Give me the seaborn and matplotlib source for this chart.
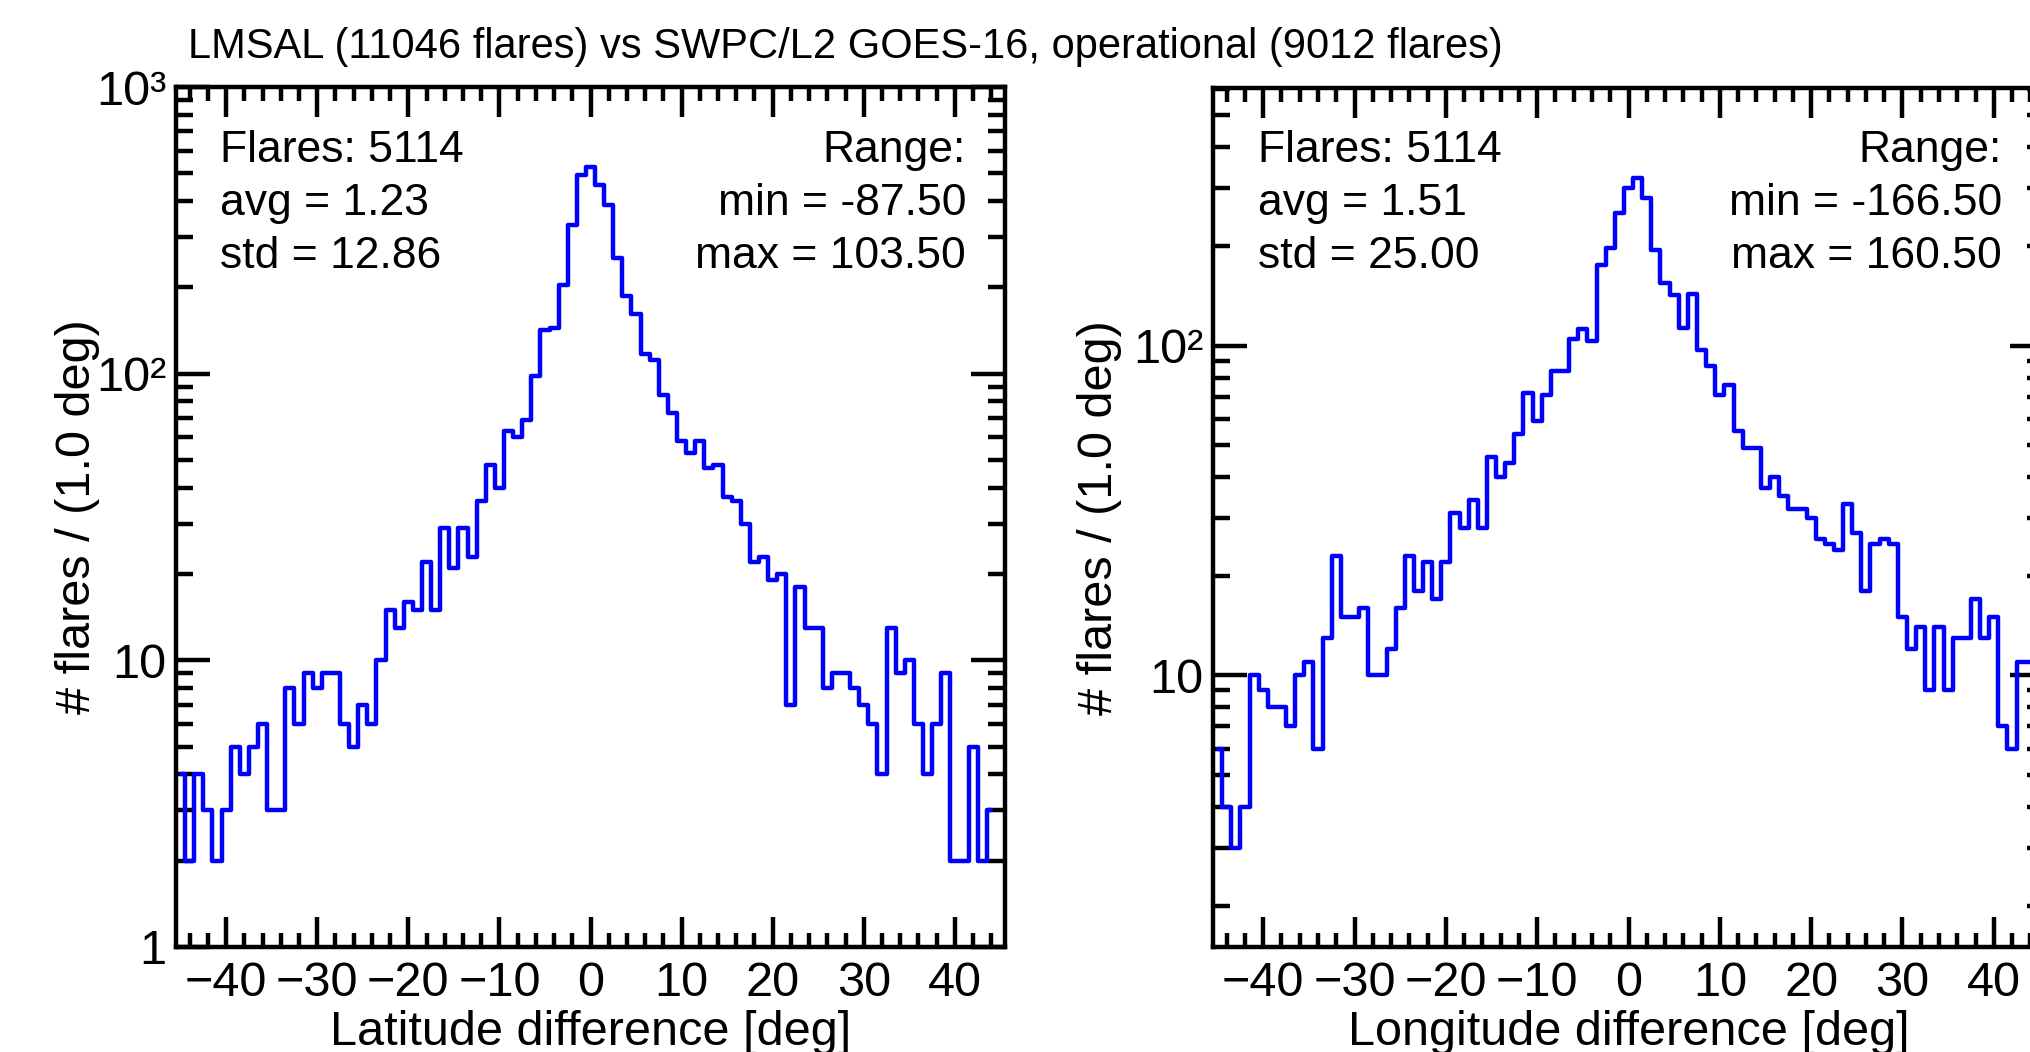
import numpy as np
import matplotlib
matplotlib.use("Agg")
import matplotlib.pyplot as plt
import seaborn as sns
from matplotlib.ticker import FixedLocator, FuncFormatter, LogLocator, NullFormatter

# ---------------- data ----------------
lat_bins = list(range(-45, 45))
lat_counts = [4, 2, 4, 3, 2, 3, 5, 4, 5, 6,
              3, 3, 8, 6, 9, 8, 9, 9, 6, 5,
              7, 6, 10, 15, 13, 16, 15, 22, 15, 29,
              21, 29, 23, 36, 48, 40, 63, 60, 69, 98,
              142, 144, 204, 330, 493, 528, 456, 388, 253, 186,
              161, 117, 112, 84, 73, 58, 53, 58, 47, 48,
              37, 36, 30, 22, 23, 19, 20, 7, 18, 13,
              13, 8, 9, 9, 8, 7, 6, 4, 13, 9,
              10, 6, 4, 6, 9, 2, 2, 5, 2, 3]

lon_bins = list(range(-45, 45))
lon_counts = [6, 4, 3, 4, 10, 9, 8, 8, 7, 10,
              11, 6, 13, 23, 15, 15, 16, 10, 10, 12,
              16, 23, 18, 22, 17, 22, 31, 28, 34, 28,
              46, 40, 44, 54, 72, 59, 71, 84, 84, 105,
              112, 103, 176, 198, 252, 301, 322, 280, 195, 155,
              143, 113, 144, 97, 87, 71, 76, 55, 49, 49,
              37, 40, 35, 32, 32, 30, 26, 25, 24, 33,
              27, 18, 25, 26, 25, 15, 12, 14, 9, 14,
              9, 13, 13, 17, 13, 15, 7, 6, 11, 11]

title = "LMSAL (11046 flares) vs SWPC/L2 GOES-16, operational (9012 flares)"
x_major = [-40, -30, -20, -10, 0, 10, 20, 30, 40]
x_minor = list(range(-44, 45, 2))
y_tick_labels = {1: "1", 10: "10", 100: "10\u00b2", 1000: "10\u00b3"}

panels = [
    dict(bins=lat_bins, counts=lat_counts, xlabel="Latitude difference [deg]",
         ylim=(1, 1000), yticks=[1, 10, 100, 1000],
         left=["Flares: 5114", "avg = 1.23", "std = 12.86"],
         right=["Range:", "min = -87.50", "max = 103.50"]),
    dict(bins=lon_bins, counts=lon_counts, xlabel="Longitude difference [deg]",
         ylim=(1.5, 605), yticks=[10, 100],
         left=["Flares: 5114", "avg = 1.51", "std = 25.00"],
         right=["Range:", "min = -166.50", "max = 160.50"]),
]

# ---------------- style ----------------
sns.set_theme(style="white")
plt.rcParams['font.family'] = ['Liberation Sans', 'DejaVu Sans']
plt.rcParams['axes.unicode_minus'] = True

FS_TICK = 35
FS_LAB = 35
FS_ANN = 32
FS_TITLE = 30
LW = 3.2
W, H = 2030, 1052

fig = plt.figure(figsize=(W / 100, H / 100), dpi=100)
fig.patch.set_facecolor('white')

# pixel boxes (left, top, right, bottom) and label / text anchors
layout = [
    dict(box=(176, 87, 1005, 947), ylab_x=100, text_l=220, text_r=966),
    dict(box=(1213, 88, 2044, 947), ylab_x=1122, text_l=1258, text_r=2002),
]


def ylab(v, pos=None):
    return y_tick_labels.get(int(round(v)), "")


for lay, p in zip(layout, panels):
    x0, y0, x1, y1 = lay['box']
    ax = fig.add_axes([x0 / W, 1 - y1 / H, (x1 - x0) / W, (y1 - y0) / H])
    ax.set_facecolor('white')
    sns.lineplot(x=p['bins'], y=p['counts'], ax=ax, color='#0000ff',
                 linewidth=LW, drawstyle='steps-mid', estimator=None, sort=False)
    ax.set_yscale('log')
    ax.set_xlim(-45.5, 45.5)
    ax.set_ylim(*p['ylim'])

    ax.xaxis.set_major_locator(FixedLocator(x_major))
    ax.xaxis.set_minor_locator(FixedLocator(x_minor))
    ax.yaxis.set_major_locator(FixedLocator(p['yticks']))
    ax.yaxis.set_major_formatter(FuncFormatter(ylab))
    ax.yaxis.set_minor_locator(LogLocator(base=10, subs=np.arange(2, 10), numticks=20))
    ax.yaxis.set_minor_formatter(NullFormatter())

    for s in ax.spines.values():
        s.set_visible(True)
        s.set_linewidth(LW)
        s.set_color('black')

    ax.tick_params(which='both', direction='in', top=True, right=True,
                   bottom=True, left=True, width=LW, color='black',
                   labelsize=FS_TICK, labelcolor='black')
    ax.tick_params(axis='x', which='major', length=21.6, pad=10)
    ax.tick_params(axis='x', which='minor', length=10)
    ax.tick_params(axis='y', which='major', length=24.5, pad=7)
    ax.tick_params(axis='y', which='minor', length=12.2)

    ax.set_xlabel(p['xlabel'], fontsize=FS_LAB, color='black')
    ax.xaxis.label.set_verticalalignment('baseline')
    ax.xaxis.set_label_coords(0.5, (y1 - 1045) / (y1 - y0))
    ax.set_ylabel("# flares / (1.0 deg)", fontsize=FS_LAB, color='black')
    ax.yaxis.set_label_coords((lay['ylab_x'] - x0) / (x1 - x0), 0.5)
    ax.grid(False)

    base = [162, 215, 268]
    xl = (lay['text_l'] - x0) / (x1 - x0)
    xr = (lay['text_r'] - x0) / (x1 - x0)
    for txt, b in zip(p['left'], base):
        ax.text(xl, (y1 - b) / (y1 - y0), txt, transform=ax.transAxes,
                fontsize=FS_ANN, ha='left', va='baseline', color='black')
    for txt, b in zip(p['right'], base):
        ax.text(xr, (y1 - b) / (y1 - y0), txt, transform=ax.transAxes,
                fontsize=FS_ANN, ha='right', va='baseline', color='black')

fig.text(188 / W, 1 - 58 / H, title, fontsize=FS_TITLE, ha='left', va='baseline', color='black')

fig.savefig("out.png", dpi=100, facecolor='white')
